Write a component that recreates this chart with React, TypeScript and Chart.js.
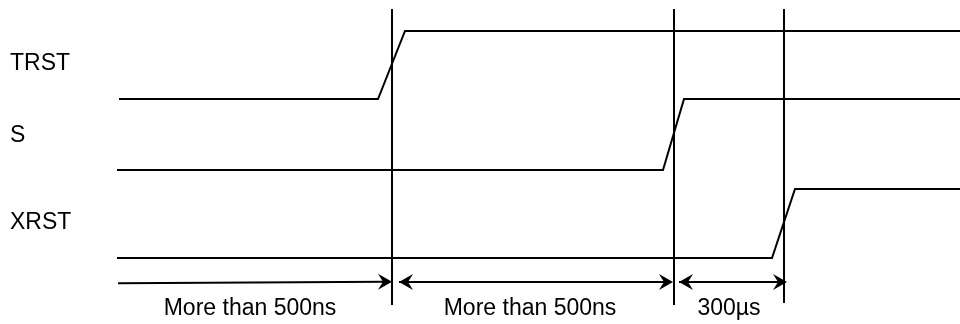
import React, { useEffect, useRef } from "react";
import { Chart, registerables } from "chart.js";

Chart.register(...registerables);

// Time axis (diagram units) and signal levels
const signalNames = ["TRST", "S", "XRST"];
const signalLabelY = [63.5, 135.5, 223];
const laneLow = [99, 170, 258];
const laneHigh = [31, 99, 189];

const trstTimes = [119, 378, 405, 960];
const trstLevels = [0, 0, 1, 1];
const sTimes = [117, 663, 684, 960];
const sLevels = [0, 0, 1, 1];
const xrstTimes = [117, 772, 795, 960];
const xrstLevels = [0, 0, 1, 1];

// Reference event times (vertical markers)
const markerTimes = [392, 674, 784];
const markerTop = [9, 9, 9];
const markerBottom = [305, 305, 303];

// Dimension arrows: start, end, labels
const dimStart = [118, 399, 679];
const dimEnd = [392, 673, 787];
const dimStartY = [283.3, 282, 282];
const dimEndY = [281.7, 282, 282];
const dimArrowAtStart = [false, true, true];
const dimLabels = ["More than 500ns", "More than 500ns", "300\u00b5s"];
const dimLabelX = [250, 530, 729];
const dimLabelY = 309;

const FONT = "23px 'Liberation Sans', Arial, Helvetica, sans-serif";

function signalData(times: number[], levels: number[], lane: number) {
  return times.map((t, i) => ({
    x: t,
    y: levels[i] ? laneHigh[lane] : laneLow[lane],
  }));
}

const annotationPlugin = {
  id: "timingAnnotations",
  afterDatasetsDraw(chart: any) {
    const { ctx, scales } = chart;
    const xs = scales.x;
    const ys = scales.y;
    ctx.save();
    ctx.fillStyle = "#000";
    const drawHead = (tx: number, ty: number, dir: number) => {
      const L = 14;
      const W = 8;
      const N = 5;
      ctx.beginPath();
      ctx.moveTo(tx, ty);
      ctx.lineTo(tx - dir * L, ty - W);
      ctx.lineTo(tx - dir * (L - N), ty);
      ctx.lineTo(tx - dir * L, ty + W);
      ctx.closePath();
      ctx.fill();
    };
    for (let i = 0; i < dimStart.length; i++) {
      const ex = xs.getPixelForValue(dimEnd[i]);
      const ey = ys.getPixelForValue(dimEndY[i]);
      drawHead(ex, ey, 1);
      if (dimArrowAtStart[i]) {
        const sx = xs.getPixelForValue(dimStart[i]);
        const sy = ys.getPixelForValue(dimStartY[i]);
        drawHead(sx, sy, -1);
      }
    }
    ctx.font = FONT;
    ctx.textBaseline = "middle";
    ctx.textAlign = "left";
    signalNames.forEach((n, i) => {
      ctx.fillText(n, xs.getPixelForValue(10), ys.getPixelForValue(signalLabelY[i]));
    });
    ctx.textAlign = "center";
    dimLabels.forEach((t, i) => {
      ctx.fillText(t, xs.getPixelForValue(dimLabelX[i]), ys.getPixelForValue(dimLabelY));
    });
    ctx.restore();
  },
};

export default function App() {
  const ref = useRef<HTMLCanvasElement | null>(null);
  useEffect(() => {
    if (!ref.current) return;
    const lineStyle = {
      borderColor: "#000",
      borderWidth: 2,
      pointRadius: 0,
      tension: 0,
      fill: false,
      clip: false as any,
    };
    const datasets: any[] = [
      { label: "TRST", data: signalData(trstTimes, trstLevels, 0), ...lineStyle },
      { label: "S", data: signalData(sTimes, sLevels, 1), ...lineStyle },
      { label: "XRST", data: signalData(xrstTimes, xrstLevels, 2), ...lineStyle },
    ];
    markerTimes.forEach((t, i) => {
      datasets.push({
        label: "marker" + i,
        data: [
          { x: t, y: markerTop[i] },
          { x: t, y: markerBottom[i] },
        ],
        ...lineStyle,
      });
    });
    dimStart.forEach((s, i) => {
      datasets.push({
        label: "dim" + i,
        data: [
          { x: s, y: dimStartY[i] },
          { x: dimEnd[i] - 6, y: dimEndY[i] },
        ],
        ...lineStyle,
      });
    });
    const chart = new Chart(ref.current, {
      type: "line",
      data: { datasets },
      options: {
        animation: false,
        responsive: true,
        maintainAspectRatio: false,
        layout: { padding: 0 },
        plugins: { legend: { display: false }, tooltip: { enabled: false } },
        scales: {
          x: { type: "linear", min: 0, max: 960, display: false },
          y: { type: "linear", min: 0, max: 324, reverse: true, display: false },
        },
      },
      plugins: [annotationPlugin],
    });
    return () => chart.destroy();
  }, []);
  return (
    <div style={{ position: "fixed", left: 0, top: 0, width: 960, height: 324, background: "#fff" }}>
      <canvas ref={ref} />
    </div>
  );
}
